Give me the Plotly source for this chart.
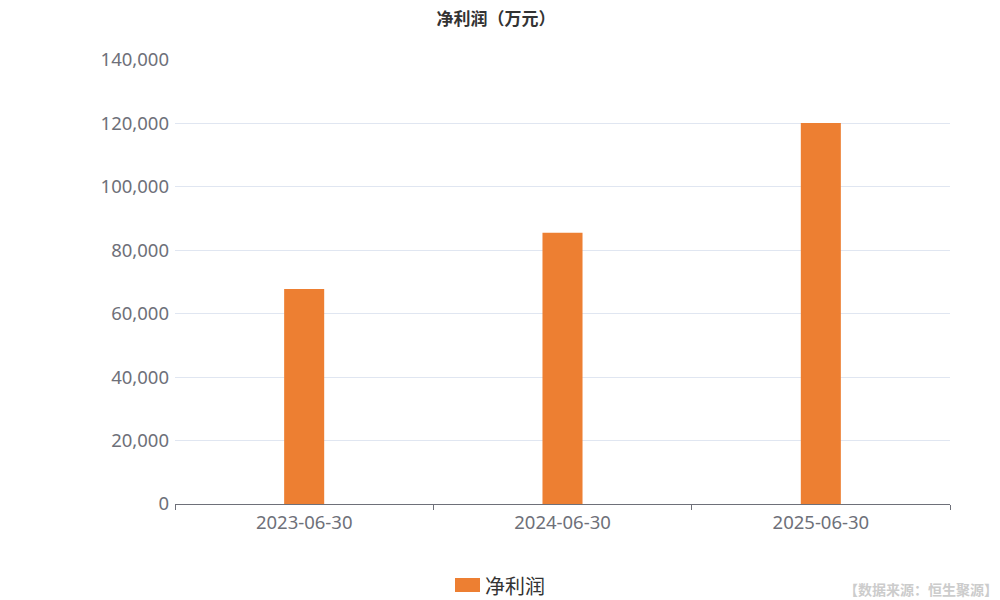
import plotly.graph_objects as go

categories = ["2023-06-30", "2024-06-30", "2025-06-30"]
values = [67800, 85500, 120100]
series_name = "净利润"
title_text = "净利润（万元）"
source_text = "【数据来源：恒生聚源】"

FONT = "Noto Sans CJK SC, Noto Sans, sans-serif"
LATIN = "Noto Sans, Noto Sans CJK SC, sans-serif"
BAR = "#ED7F32"

fig = go.Figure()
fig.add_trace(go.Bar(
    x=categories, y=values, name=series_name,
    marker=dict(color=BAR, line=dict(width=0)),
    showlegend=False,
))

def px(x):
    return (x - 175) / 775

def py(y):
    return (504 - y) / 444

fig.add_shape(type="rect", xref="paper", yref="paper",
              x0=px(455), x1=px(480), y0=py(592), y1=py(578),
              fillcolor=BAR, line=dict(width=0), layer="above")
fig.add_annotation(text=series_name, xref="paper", yref="paper",
                   x=px(483), y=py(585), xanchor="left", yanchor="middle",
                   showarrow=False, font=dict(family=FONT, size=20, color="#333333"))
fig.add_annotation(text="<b>" + source_text + "</b>", xref="paper", yref="paper",
                   x=px(1000), y=py(589), xanchor="right", yanchor="middle",
                   showarrow=False, font=dict(family=FONT, size=14, color="#cccccc"))

fig.update_layout(
    width=992, height=592,
    margin=dict(l=167, r=50, t=52, b=96),
    plot_bgcolor="white", paper_bgcolor="white",
    title=dict(text="<b>" + title_text + "</b>", x=(496 - 8) / 992, xanchor="center", xref="container",
               y=1 - 11 / 592, yanchor="middle",
               font=dict(family=FONT, size=17, color="#333333")),
    bargap=0.845,
    font=dict(family=FONT),
)
fig.update_xaxes(
    type="category",
    tickson="boundaries", ticks="outside", ticklen=5, tickcolor="#6e7079",
    showline=True, linecolor="#6e7079", linewidth=1,
    tickfont=dict(family=LATIN, size=18.5, color="#6e7079"),
    showgrid=False, ticklabelstandoff=2,
)
fig.update_yaxes(
    range=[0, 140000], dtick=20000, tickformat=",d",
    showgrid=True, gridcolor="#e0e6f1", zeroline=False,
    tickfont=dict(family=LATIN, size=18.5, color="#6e7079"),
    ticks="", ticklabelstandoff=5,
)
fig.write_html("out.html")
